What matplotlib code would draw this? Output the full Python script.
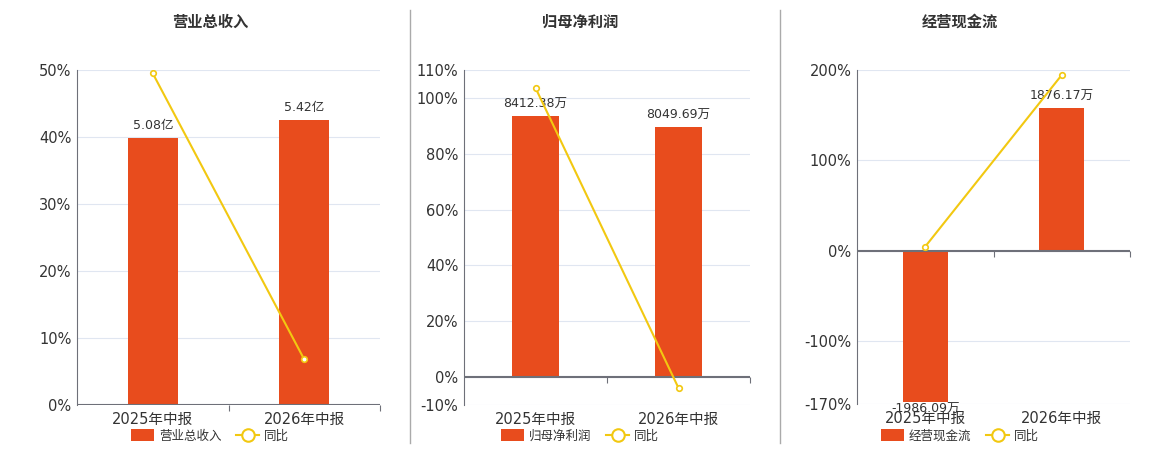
import numpy as np
import matplotlib
matplotlib.use('Agg')
import matplotlib.pyplot as plt
from matplotlib.lines import Line2D
from matplotlib.patches import Patch

plt.rcParams['font.family'] = ['DejaVu Sans', 'Noto Sans CJK SC']

periods = ['2025年中报', '2026年中报']
titles = ['营业总收入', '归母净利润', '经营现金流']

revenue = [5.08, 5.42]            # 亿
revenue_labels = ['5.08亿', '5.42亿']
revenue_yoy = [49.5, 6.8]

profit = [8412.38, 8049.69]       # 万
profit_labels = ['8412.38万', '8049.69万']
profit_yoy = [103.6, -3.9]

cashflow = [-1986.09, 1876.17]    # 万
cashflow_labels = ['-1986.09万', '1876.17万']
cashflow_yoy = [4.4, 194.5]

yticks = [[0, 10, 20, 30, 40, 50],
          [-10, 0, 20, 40, 60, 80, 100, 110],
          [-170, -100, 0, 100, 200]]

BAR = '#e84c1d'
LINE = '#f2c811'
GRID = '#e0e6f1'
AXIS = '#6e7079'
TXT = '#333333'

W, H = 1160, 450
fig = plt.figure(figsize=(W / 100, H / 100), dpi=100)

# axes boxes in pixels: left, right, top, bottom
boxes = [(77, 380, 70, 405), (464, 750, 70, 405), (857, 1130, 70, 404)]
centers = [210, 580, 960]
bar_lims = [(0, 6.37), (-900, 9895), (-2013, 2381)]

panels = [(revenue, revenue_labels, revenue_yoy),
          (profit, profit_labels, profit_yoy),
          (cashflow, cashflow_labels, cashflow_yoy)]

x = np.arange(len(periods))

for i, (vals, labels, yoy) in enumerate(panels):
    l, r, t, b = boxes[i]
    ax = fig.add_axes([l / W, 1 - b / H, (r - l) / W, (b - t) / H])
    ax2 = ax.twinx()   # bars
    ax3 = ax.twinx()   # yoy line, same scale as ax

    ylo, yhi = yticks[i][0], yticks[i][-1]
    ax.set_ylim(ylo, yhi)
    ax3.set_ylim(ylo, yhi)
    ax.set_xlim(-0.5, 1.5)
    ax.set_yticks(yticks[i])
    ax.set_yticklabels(['%d%%' % v for v in yticks[i]])
    ax.tick_params(axis='y', length=0, pad=4, labelsize=10.5, labelcolor=TXT)
    ax.set_xticks(x)
    ax.set_xticklabels(periods)
    ax.tick_params(axis='x', length=0, pad=5, labelsize=10.5, labelcolor=TXT)
    ax.grid(axis='y', color=GRID, linewidth=0.8)
    for s in ['top', 'right', 'bottom']:
        ax.spines[s].set_visible(False)
    ax.spines['left'].set_color(AXIS)

    # bars on hidden axis
    ax2.set_ylim(*bar_lims[i])
    ax2.bar(x, vals, width=0.33, color=BAR, zorder=2)
    ax2.set_yticks([])
    for s in ax2.spines.values():
        s.set_visible(False)
    for xi, v, lab in zip(x, vals, labels):
        if v >= 0:
            ax2.annotate(lab, (xi, v), xytext=(0, 4), textcoords='offset points',
                         ha='center', va='bottom', fontsize=9, color=TXT)
        else:
            ax2.annotate(lab, (xi, v), xytext=(0, -1), textcoords='offset points',
                         ha='center', va='top', fontsize=9, color=TXT)

    # zero axis with boundary ticks, over the bars
    ax3.set_yticks([])
    for s in ax3.spines.values():
        s.set_visible(False)
    ax3.axhline(0, color=AXIS, linewidth=1.5, zorder=3)
    zfrac = (0 - ylo) / (yhi - ylo)
    sec = ax3.secondary_xaxis(zfrac)
    sec.set_xticks([0.5, 1.5])
    sec.set_xticklabels([])
    sec.tick_params(length=4, color=AXIS, direction='out')
    sec.spines['bottom'].set_visible(False)

    ax3.plot(x, yoy, color=LINE, linewidth=1.5, marker='o', markersize=4,
             markerfacecolor='white', markeredgecolor=LINE, markeredgewidth=1.2,
             zorder=5)

    fig.text(centers[i] / W, 1 - 22 / H, titles[i], ha='center', va='center',
             fontsize=11, fontweight='bold', color=TXT)

    handles = [Patch(facecolor=BAR, edgecolor='none'),
               Line2D([0], [0], color=LINE, linewidth=1.5, marker='o', markersize=9,
                      markerfacecolor='white', markeredgecolor=LINE, markeredgewidth=1.5)]
    fig.legend(handles, [titles[i], '同比'], loc='center',
               bbox_to_anchor=(centers[i] / W, 1 - 436 / H), ncol=2, frameon=False,
               fontsize=9, handlelength=1.8, handleheight=1.1, columnspacing=1.2,
               handletextpad=0.4, labelcolor=TXT)

# separators
for sx in [410, 780]:
    fig.add_artist(Line2D([sx / W, sx / W], [1 - 443 / H, 1 - 10 / H],
                          transform=fig.transFigure, color='#aaaaaa', linewidth=1))

fig.savefig('out.png', dpi=100)
